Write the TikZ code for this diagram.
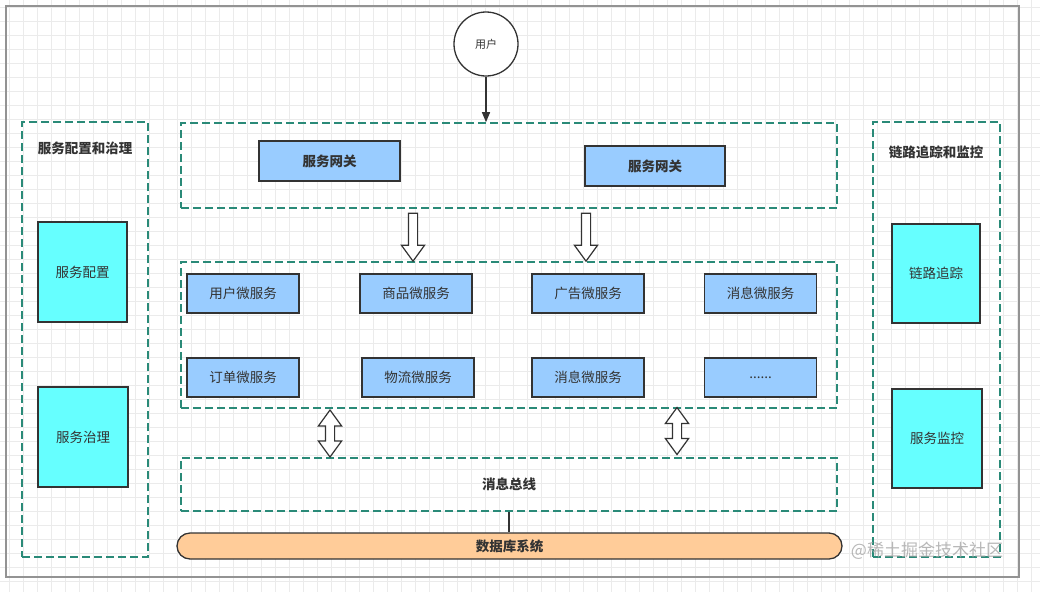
\documentclass[tikz,border=0pt]{standalone}
\usepackage{fontspec}
\setmainfont{Noto Sans CJK SC}
\usepackage{tikz}
\usetikzlibrary{arrows.meta, positioning, shapes.arrows, shapes.misc}
\definecolor{inkGray}{HTML}{333333}
\definecolor{zoneTeal}{HTML}{2A8A78}
\definecolor{gwBlue}{HTML}{99CCFF}
\definecolor{sideCyan}{HTML}{66FFFF}
\definecolor{dbPeach}{HTML}{FFCC99}
\definecolor{gridGray}{HTML}{EBEBEB}

\begin{document}
\begin{tikzpicture}[x=1pt, y=-1pt, font=\fontsize{13.5}{15}\selectfont, text=inkGray,
    zone/.style={draw=zoneTeal, line width=1.6pt, dash pattern=on 8pt off 4pt,
      inner sep=0pt},
    gwbox/.style={draw=inkGray, fill=gwBlue, line width=1.3pt, minimum width=141pt,
      minimum height=40pt, font=\fontsize{13.5}{15}\selectfont\bfseries},
    msbox/.style={draw=inkGray, fill=gwBlue, line width=1.3pt, minimum width=112pt,
      minimum height=39pt},
    sidebox/.style={draw=inkGray, fill=sideCyan, line width=1.3pt, minimum width=89pt,
      minimum height=100pt},
    hollowdown/.style={single arrow, draw=inkGray, fill=white, line width=1.2pt,
      shape border rotate=270, inner sep=4pt, single arrow head extend=7pt,
      single arrow tip angle=72, minimum height=48pt},
    hollowboth/.style={double arrow, draw=inkGray, fill=white, line width=1.2pt,
      shape border rotate=90, inner sep=4pt, double arrow head extend=7pt,
      double arrow tip angle=72, minimum height=47pt}]
    \useasboundingbox (0,0) rectangle (1040,592);
    \fill[white] (0,0) rectangle (1040,592);
    % background grid
    \foreach \gx in {9,23,...,1040}
      \draw[gridGray, line width=0.6pt] (\gx,0) -- (\gx,592);
    \foreach \gy in {7,21,...,592}
      \draw[gridGray, line width=0.6pt] (0,\gy) -- (1040,\gy);
    \draw[gray!85, line width=2pt] (6,6) rectangle (1019,577);

    % user and gateways
    \node[draw=inkGray, fill=white, circle, line width=1.3pt, minimum size=64pt,
          font=\fontsize{11}{13}\selectfont] (user) at (486,44) {用户};
    \node[zone, minimum width=656pt, minimum height=85pt] (gwzone) at (509,165.5) {};
    \node[gwbox] (gw1) at (329.5,161) {服务网关};
    \node[gwbox, minimum width=140pt] (gw2) at (655,166) {服务网关};
    \draw[inkGray, line width=1.3pt, -{Triangle[length=10pt, width=8pt]}]
          (user.south) -- (user.south |- gwzone.north);

    % microservices
    \node[zone, minimum width=656pt, minimum height=146pt] (mszone) at (509,335) {};
    \node[msbox] (user-ms) at (243,293.5) {用户微服务};
    \node[msbox] (goods-ms) at (416,293.5) {商品微服务};
    \node[msbox] (ad-ms) at (588,293.5) {广告微服务};
    \node[msbox] (msg-ms) at (760.5,293.5) {消息微服务};
    \node[msbox] (order-ms) at (243,377.5) {订单微服务};
    \node[msbox] (ship-ms) at (418,377.5) {物流微服务};
    \node[msbox] (msg-ms2) at (588,377.5) {消息微服务};
    \node[msbox] (more-ms) at (760.5,377.5) {......};
    \node[hollowdown] (down1) at (413,234) {};
    \node[hollowdown] (down2) at (586,234) {};

    % bus and database
    \node[zone, minimum width=656pt, minimum height=53pt,
          font=\fontsize{13.5}{15}\selectfont\bfseries] (bus) at (509,484.5) {消息总线};
    \node[hollowboth] (both1) at (330,433.5) {};
    \node[hollowboth] (both2) at (677,431) {};
    \node[draw=inkGray, fill=dbPeach, line width=1.3pt, rounded rectangle,
          minimum width=665pt, minimum height=26pt, inner sep=0pt,
          font=\fontsize{13.5}{15}\selectfont\bfseries] (db) at (509.5,546) {数据库系统};
    \draw[inkGray, line width=1.3pt] (bus.south) -- (bus.south |- db.north);

    % side columns
    \node[zone, minimum width=126pt, minimum height=435pt] (cfgzone) at (85,339.5) {};
    \node[font=\fontsize{13.5}{15}\selectfont\bfseries] (cfgtitle) at (85,148) {服务配置和治理};
    \node[sidebox] (cfg) at (82.5,272) {服务配置};
    \node[sidebox, minimum width=90pt] (gov) at (83,437) {服务治理};
    \node[zone, minimum width=127pt, minimum height=435pt] (tracezone) at (936.5,339.5) {};
    \node[font=\fontsize{13.5}{15}\selectfont\bfseries] (tracetitle) at (936,152) {链路追踪和监控};
    \node[sidebox, minimum width=88pt, minimum height=99pt] (trace) at (936,273.5) {链路追踪};
    \node[sidebox, minimum width=90pt, minimum height=99pt] (mon) at (937,438.5) {服务监控};

    \node[text=gray!70, opacity=0.8, font=\fontsize{17}{19}\selectfont] (mark) at (927,551)
          {@稀土掘金技术社区};
  \end{tikzpicture}
\end{document}
